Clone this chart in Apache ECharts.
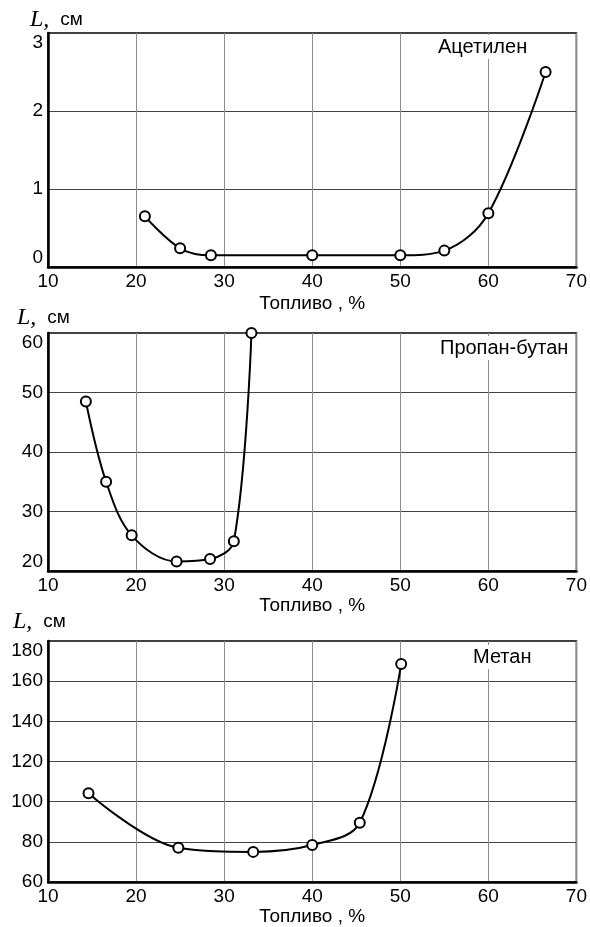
<!DOCTYPE html>
<html>
<head>
<meta charset="utf-8">
<script src="https://cdn.jsdelivr.net/npm/echarts@6/dist/echarts.min.js"></script>
<style>
html,body{margin:0;padding:0;background:#fff;}
#chart{width:590px;height:927px;}
</style>
</head>
<body>
<div id="chart"></div>
<script>
// ---- data ----
const xTickLabels = [10, 20, 30, 40, 50, 60, 70];
const acetyleneX = [21, 25, 28.5, 40, 50, 55, 60, 66.5];
const acetyleneL = [0.65, 0.24, 0.15, 0.15, 0.15, 0.21, 0.69, 2.5];
const acetyleneTicks = [0, 1, 2, 3];
const propaneX = [14.3, 16.6, 19.5, 24.6, 28.4, 31.1, 33.1];
const propaneL = [48.5, 35, 26, 21.6, 22, 25, 60];
const propaneTicks = [20, 30, 40, 50, 60];
const methaneX = [14.6, 24.8, 33.3, 40, 45.4, 50.1];
const methaneL = [104.2, 77, 75, 78.4, 89.5, 168.5];
const methaneTicks = [60, 80, 100, 120, 140, 160, 180];
const gasNames = ['Ацетилен', 'Пропан-бутан', 'Метан'];
const xTitle = 'Топливо , %';

const zip = (xs, ys) => xs.map((x, i) => [x, ys[i]]);
const FONT = 'Liberation Sans, Arial, sans-serif';

const panels = [
  {top: 33, height: 234, ticks: acetyleneTicks, x: acetyleneX, y: acetyleneL, name: gasNames[0],
   nameGap: 27, minAlign: 'bottom', titlePos: {left: 436, top: 35}, yNamePad: [0, 0, 1, -18]},
  {top: 333, height: 238, ticks: propaneTicks, x: propaneX, y: propaneL, name: gasNames[1],
   nameGap: 21, minAlign: 'bottom', titlePos: {left: 438, top: 336}, yNamePad: [0, 0, 3, -31]},
  {top: 641, height: 241, ticks: methaneTicks, x: methaneX, y: methaneL, name: gasNames[2],
   nameGap: 24, minAlign: 'middle', titlePos: {left: 471, top: 645}, yNamePad: [0, 0, 7, -35]}
];

const grid = [], xAxis = [], yAxis = [], series = [], title = [];
panels.forEach((p, i) => {
  grid.push({left: 48, top: p.top, width: 530, height: p.height, show: true,
    borderColor: '#000', borderWidth: 1.5, backgroundColor: '#fff', containLabel: false});
  xAxis.push({
    type: 'value', gridIndex: i, min: xTickLabels[0], max: xTickLabels[xTickLabels.length - 1], interval: 10,
    name: xTitle, nameLocation: 'middle', nameGap: p.nameGap,
    nameTextStyle: {fontFamily: FONT, fontSize: 19, color: '#000'},
    axisLine: {show: true, onZero: false, lineStyle: {color: '#000', width: 2.5}},
    axisTick: {show: false},
    axisLabel: {fontFamily: FONT, fontSize: 19, color: '#000', margin: 5},
    splitLine: {show: true, lineStyle: {color: '#8c8c8c', width: 1}}
  });
  const t = p.ticks;
  yAxis.push({
    type: 'value', gridIndex: i, min: t[0], max: t[t.length - 1], interval: t[1] - t[0],
    name: '{l|L,}{u|см}', nameLocation: 'end', nameGap: 0,
    nameTextStyle: {align: 'left', verticalAlign: 'bottom', padding: p.yNamePad,
      rich: {
        l: {fontFamily: 'Liberation Serif, Times New Roman, serif', fontStyle: 'italic', fontSize: 24, color: '#000'},
        u: {fontFamily: FONT, fontSize: 19, color: '#000', padding: [0, 0, 0, 11]}
      }},
    axisLine: {show: true, onZero: false, lineStyle: {color: '#000', width: 2.5}},
    axisTick: {show: false},
    axisLabel: {fontFamily: FONT, fontSize: 19, color: '#000', margin: 5,
      verticalAlignMaxLabel: 'top', verticalAlignMinLabel: p.minAlign},
    splitLine: {show: true, lineStyle: {color: '#444', width: 1}}
  });
  series.push({
    type: 'line', name: p.name, xAxisIndex: i, yAxisIndex: i,
    data: zip(p.x, p.y), smooth: 0.35,
    symbol: 'circle', symbolSize: 10,
    itemStyle: {color: '#fff', borderColor: '#000', borderWidth: 2},
    lineStyle: {color: '#000', width: 2},
    z: 3
  });
  title.push({text: p.name, left: p.titlePos.left, top: p.titlePos.top,
    backgroundColor: '#fff', padding: [2, 2, 2, 2],
    textStyle: {fontFamily: FONT, fontSize: 20, fontWeight: 'normal', color: '#000'}, z: 5});
});

const chart = echarts.init(document.getElementById('chart'), null, {renderer: 'canvas'});
chart.setOption({animation: false, backgroundColor: '#fff', title, grid, xAxis, yAxis, series});
</script>
</body>
</html>
